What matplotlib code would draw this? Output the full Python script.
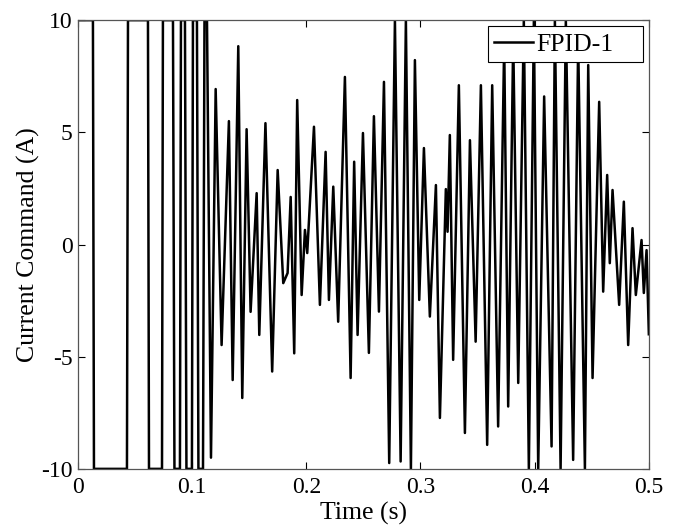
import matplotlib
matplotlib.use('Agg')
import matplotlib.pyplot as plt

# saturated start-up part (time in s, current in A)
start_t = [0.0, 0.0131, 0.0140, 0.0429, 0.0438, 0.0613, 0.0622, 0.0736, 0.0744,
           0.0832, 0.0845, 0.0893, 0.0902, 0.0937, 0.0950, 0.0998, 0.1007, 0.1042,
           0.1055, 0.1095, 0.1108, 0.1130]
start_i = [10, 10, -10, -10, 10, 10, -10, -10, 10,
           10, -10, -10, 10, 10, -10, -10, 10, 10,
           -10, -10, 10, 10]

# peaks / troughs
peak_t = [0.1165, 0.1206, 0.1258, 0.1322, 0.1355, 0.1404, 0.1439, 0.1477, 0.1512, 0.1565,
          0.1588, 0.1642, 0.1701, 0.1749, 0.1798, 0.1836, 0.1863, 0.1894, 0.1920, 0.1959,
          0.1988, 0.2008, 0.2067, 0.2119, 0.2169, 0.2198, 0.2236, 0.2279, 0.2338, 0.2388,
          0.2419, 0.2449, 0.2496, 0.2548, 0.2592, 0.2636, 0.2680, 0.2726, 0.2776, 0.2826,
          0.2872, 0.2916, 0.2951, 0.2989, 0.3030, 0.3082, 0.3135, 0.3170, 0.3222, 0.3237,
          0.3257, 0.3286, 0.3336, 0.3389, 0.3433, 0.3483, 0.3529, 0.3584, 0.3628, 0.3680,
          0.3733, 0.3768, 0.3812, 0.3856, 0.3905, 0.3949, 0.3993, 0.4031, 0.4083, 0.4148,
          0.4177, 0.4227, 0.4273, 0.4337, 0.4381, 0.4440, 0.4469, 0.4507, 0.4565, 0.4600,
          0.4635, 0.4658, 0.4682, 0.4740, 0.4781, 0.4819, 0.4857, 0.4886, 0.4936, 0.4956,
          0.4980, 0.5000]
peak_i = [-9.5, 6.93, -4.48, 5.5, -6.04, 8.84, -6.84, 5.14, -3.0, 2.29,
          -4.03, 5.41, -5.66, 3.32, -1.72, -1.27, 2.12, -4.85, 6.44, -2.25,
          0.65, -0.38, 5.25, -2.69, 4.13, -2.47, 2.58, -3.44, 7.47, -5.95,
          3.69, -4.03, 4.97, -4.83, 5.72, -2.99, 7.25, -9.74, 10, -9.67,
          10, -10, 8.22, -2.47, 4.3, -3.21, 2.65, -7.73, 2.47, 0.57,
          4.88, -5.14, 7.1, -8.4, 4.65, -4.33, 7.1, -8.93, 7.1, -8.11,
          9.0, -7.22, 9.2, -6.17, 10, -10, 10, -10, 6.6, -9.0,
          10, -10, 10, -9.6, 9.0, -10, 8.0, -5.95, 6.36, -2.1,
          3.1, -0.83, 2.43, -2.69, 1.91, -4.48, 0.73, -2.25, 0.2, -2.16,
          -0.25, -4.0]

time_s = start_t + peak_t
current = start_i + peak_i

plt.rcParams['font.family'] = ['Liberation Serif', 'DejaVu Serif']
plt.rcParams['axes.unicode_minus'] = False

fig = plt.figure(figsize=(6.78, 5.31), dpi=100)
ax = fig.add_axes([0.115, 0.117, 0.842, 0.845])

ax.plot(time_s, current, color='black', linewidth=1.8, label='FPID-1')

ax.set_xlim(0, 0.5)
ax.set_ylim(-10, 10)
ax.set_xticks([0, 0.1, 0.2, 0.3, 0.4, 0.5])
ax.set_xticklabels(['0', '0.1', '0.2', '0.3', '0.4', '0.5'])
ax.set_yticks([-10, -5, 0, 5, 10])
ax.tick_params(direction='in', top=True, right=True, length=5, width=0.8,
               labelsize=17, colors='black')
ax.tick_params(axis='x', pad=6)
ax.tick_params(axis='y', pad=4)
for sp in ax.spines.values():
    sp.set_color('#555555')
    sp.set_linewidth(0.9)

ax.set_xlabel('Time (s)', fontsize=18.5, labelpad=3)
ax.set_ylabel('Current Command (A)', fontsize=18.5, labelpad=1)

leg = ax.legend(loc='upper left', bbox_to_anchor=(0.718, 0.904, 0.2715, 0.0826),
                mode='expand', fontsize=18.5, frameon=True, fancybox=False,
                handlelength=1.5, handletextpad=0.15, borderpad=0.25,
                borderaxespad=0)
leg.get_frame().set_edgecolor('black')
leg.get_frame().set_linewidth(0.8)
leg.get_frame().set_alpha(1)

plt.savefig('out.png', dpi=100)
